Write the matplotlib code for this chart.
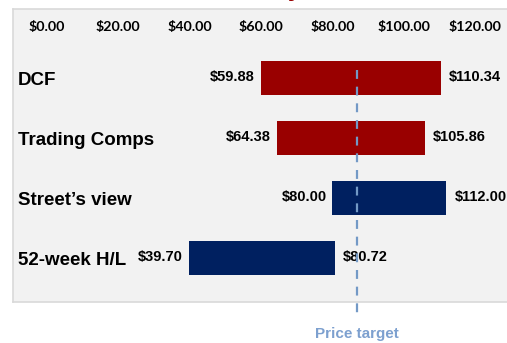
import matplotlib.pyplot as plt
from matplotlib.ticker import FuncFormatter

# valuation ranges (low / high per method)
methods = ["DCF", "Trading Comps", "Street\u2019s view", "52-week H/L"]
lows = [59.88, 64.38, 80.00, 39.70]
highs = [110.34, 105.86, 112.00, 80.72]
colors = ["#990000", "#990000", "#002060", "#002060"]
price_target = 87.0
ticks = [0, 20, 40, 60, 80, 100, 120]

W, H = 507, 343
fig = plt.figure(figsize=(W / 100, H / 100), dpi=100)
fig.patch.set_facecolor("white")

# panel spans px 13..520 horizontally, 9..302 vertically
ax = fig.add_axes([13 / W, (H - 302) / H, 507 / W, 293 / H])
ax.set_facecolor("#F2F2F2")
scale = 428 / 120.0
ax.set_xlim((13 - 47) / scale, (520 - 47) / scale)
ax.set_ylim((302 - 78) / 60.0, (9 - 78) / 60.0)

for s in ax.spines.values():
    s.set_color("#D9D9D9")
    s.set_linewidth(1.2)

ypos = range(len(methods))
ax.barh(list(ypos), [h - l for l, h in zip(lows, highs)], left=lows,
        height=0.58, color=colors, zorder=2)

for y, name, lo, hi in zip(ypos, methods, lows, highs):
    ax.text(-8.2, y + 0.04, name, ha="left", va="center", fontsize=13.5,
            fontweight="bold", family="Liberation Sans", color="black")
    ax.text(lo - 1.6, y - 0.02, f"${lo:.2f}", ha="right", va="center",
            fontsize=10.5, fontweight="bold", family="Liberation Sans")
    ax.text(hi + 2.2, y - 0.02, f"${hi:.2f}", ha="left", va="center",
            fontsize=10.5, fontweight="bold", family="Liberation Sans",
            clip_on=False)

# price target marker
ax.plot([price_target, price_target], [-0.13, 3.95], color="#7399C6",
        lw=1.6, ls=(0, (4, 3.5)), zorder=3, clip_on=False)
ax.text(price_target, 4.27, "Price target", ha="center", va="center",
        fontsize=11, fontweight="bold", family="Liberation Sans",
        color="#7DA0CF", clip_on=False)

ax.set_yticks([])
ax.set_xticks(ticks)
ax.xaxis.set_major_formatter(FuncFormatter(lambda v, p: f"${v:.2f}"))
ax.xaxis.tick_top()
ax.tick_params(axis="x", length=0, pad=-17, labelsize=10.3)
for lbl in ax.get_xticklabels():
    lbl.set_fontfamily("Lato")
    lbl.set_fontweight("bold")
    lbl.set_va("bottom")

# title sits above the canvas; only its descender shows
fig.text(302 / W, 1 + 4 / H, "Valuation Summary", ha="right",
         va="baseline", fontsize=18, fontweight="bold",
         family="Liberation Sans", color="#990000")

fig.savefig("out.png", dpi=100)
